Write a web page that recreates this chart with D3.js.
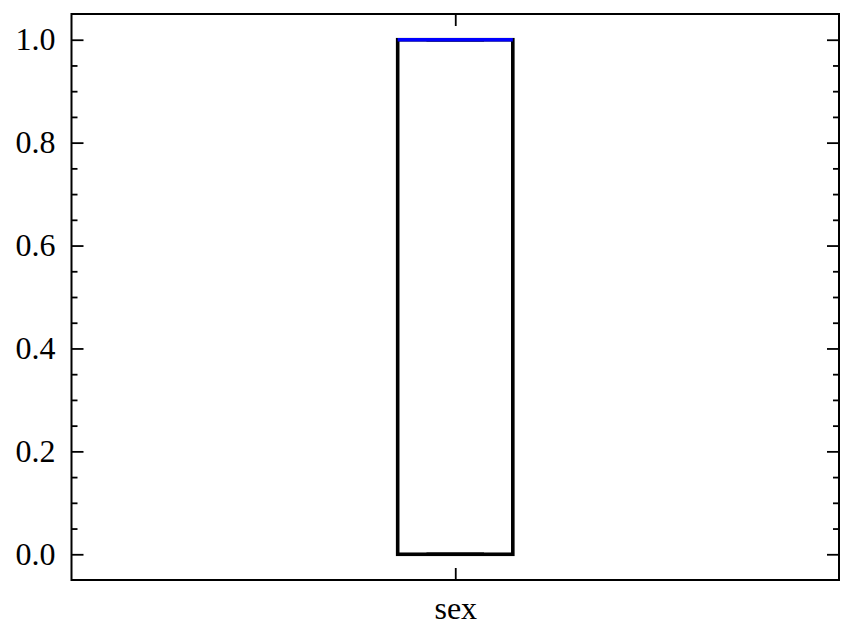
<!DOCTYPE html>
<html><head><meta charset="utf-8">
<script src="https://cdn.jsdelivr.net/npm/d3@7"></script>
<style>body{margin:0;background:#fff}svg{display:block}</style>
</head><body>
<svg id="c" width="854" height="640"></svg>
<script>
const categories = ["sex"];
const boxMin = [0];
const boxQ1 = [0];
const boxMedian = [1];
const boxQ3 = [1];
const boxMax = [1];
const yTicks = [0, 0.2, 0.4, 0.6, 0.8, 1.0];
const yMinorTicks = d3.range(0, 21).map(i => i * 0.05).filter(v => Math.abs(Math.round(v * 5) - v * 5) > 1e-6);
const yDomain = [-0.05, 1.05];

const svg = d3.select("#c");
const L = 71.5, R = 839, T = 14, B = 580;
const font = "'Liberation Serif', 'Times New Roman', serif";

const x = d3.scaleLinear().domain([0.5, 1.5]).range([L, R]);
const y = d3.scaleLinear().domain(yDomain).range([B, T]);

const g = svg.append("g");
const bw = 3.6;

categories.forEach((c, i) => {
  const pos = i + 1;
  const w = 0.15, cw = 0.075;
  const x0 = x(pos - w / 2), x1 = x(pos + w / 2);
  g.append("rect").attr("x", x0).attr("y", y(boxQ3[i])).attr("width", x1 - x0)
    .attr("height", y(boxQ1[i]) - y(boxQ3[i])).attr("fill", "none").attr("stroke", "#000").attr("stroke-width", bw);
  g.append("line").attr("x1", x(pos)).attr("x2", x(pos)).attr("y1", y(boxQ1[i])).attr("y2", y(boxMin[i])).attr("stroke", "#000").attr("stroke-width", bw);
  g.append("line").attr("x1", x(pos)).attr("x2", x(pos)).attr("y1", y(boxQ3[i])).attr("y2", y(boxMax[i])).attr("stroke", "#000").attr("stroke-width", bw);
  [boxMin[i], boxMax[i]].forEach(v => {
    g.append("line").attr("x1", x(pos - cw / 2)).attr("x2", x(pos + cw / 2)).attr("y1", y(v)).attr("y2", y(v)).attr("stroke", "#000").attr("stroke-width", bw);
  });
  g.append("line").attr("x1", x0).attr("x2", x1).attr("y1", y(boxMedian[i])).attr("y2", y(boxMedian[i]))
    .attr("stroke", "#0000ff").attr("stroke-width", bw);
});

const major = 12, minor = 6;
const yLeft = d3.axisLeft(y).tickValues(yTicks).tickFormat(d3.format(".1f")).tickSizeInner(-major).tickSizeOuter(0).tickPadding(16);
const yRight = d3.axisRight(y).tickValues(yTicks).tickFormat("").tickSizeInner(-major).tickSizeOuter(0);
const yLeftMinor = d3.axisLeft(y).tickValues(yMinorTicks).tickFormat("").tickSizeInner(-minor).tickSizeOuter(0);
const yRightMinor = d3.axisRight(y).tickValues(yMinorTicks).tickFormat("").tickSizeInner(-minor).tickSizeOuter(0);
const xBottom = d3.axisBottom(x).tickValues([1]).tickFormat((d, i) => categories[i]).tickSizeInner(-major).tickSizeOuter(0).tickPadding(16);
const xTop = d3.axisTop(x).tickValues([1]).tickFormat("").tickSizeInner(-major).tickSizeOuter(0);

function style(sel) {
  sel.select(".domain").remove();
  sel.selectAll(".tick line").attr("stroke", "#000").attr("stroke-width", 1.8);
  sel.selectAll(".tick text").attr("fill", "#000").style("font-family", font).style("font-size", "32px");
}
svg.append("g").attr("transform", `translate(${L},0)`).call(yLeft).call(style);
svg.append("g").attr("transform", `translate(${L},0)`).call(yLeftMinor).call(style);
svg.append("g").attr("transform", `translate(${R},0)`).call(yRight).call(style);
svg.append("g").attr("transform", `translate(${R},0)`).call(yRightMinor).call(style);
svg.append("g").attr("transform", `translate(0,${B})`).call(xBottom).call(style);
svg.append("g").attr("transform", `translate(0,${T})`).call(xTop).call(style);

svg.append("rect").attr("x", L).attr("y", T).attr("width", R - L).attr("height", B - T)
  .attr("fill", "none").attr("stroke", "#000").attr("stroke-width", 2);
</script>
</body></html>
